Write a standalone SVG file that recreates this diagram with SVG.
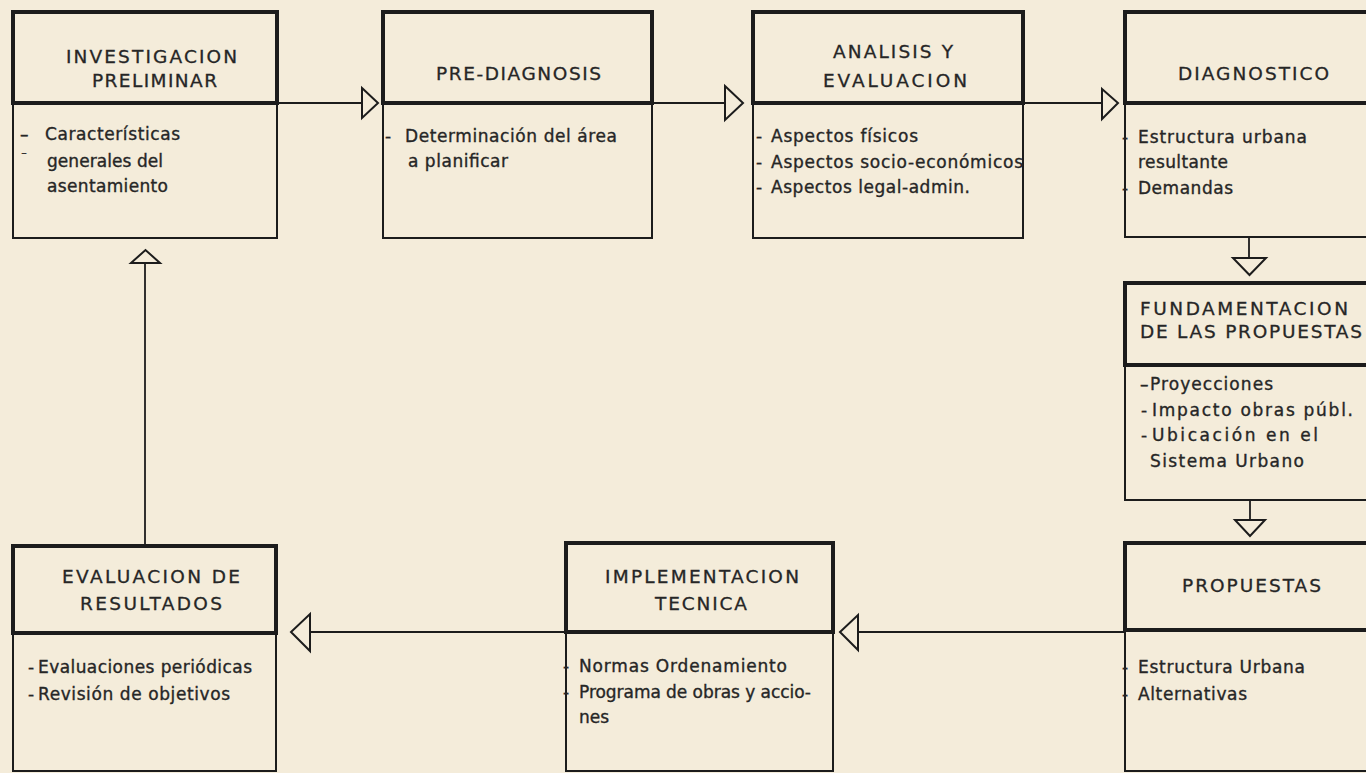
<svg xmlns="http://www.w3.org/2000/svg" width="1366" height="773" viewBox="0 0 1366 773">
<defs>
<style>
.bg{fill:#f4ecda}
.hd{fill:none;stroke:#1c1c1c;stroke-width:4}
.bd{fill:none;stroke:#1c1c1c;stroke-width:2}
.ln{fill:none;stroke:#1c1c1c;stroke-width:1.8}
.ar{fill:#f4ecda;stroke:#1c1c1c;stroke-width:2;stroke-linejoin:miter}
.h{font-family:"DejaVu Sans","Liberation Sans",sans-serif;font-size:18.5px;fill:#262626;stroke:#262626;stroke-width:0.3}
.t{font-family:"DejaVu Sans","Liberation Sans",sans-serif;font-size:17px;fill:#262626;stroke:#262626;stroke-width:0.35}
.s{font-family:"DejaVu Sans","Liberation Sans",sans-serif;font-size:12px;fill:#262626}
</style>
</defs>
<rect class="bg" x="0" y="0" width="1366" height="773"/>

<g id="connectors">
<line class="ln" x1="277" y1="103" x2="362" y2="103"/>
<polygon class="ar" points="362,88 378,103 362,118"/>
<line class="ln" x1="652" y1="103" x2="725" y2="103"/>
<polygon class="ar" points="725,86 743,103 725,120"/>
<line class="ln" x1="1023" y1="103" x2="1102" y2="103"/>
<polygon class="ar" points="1102,89 1118,103 1102,119"/>
<line class="ln" x1="1249" y1="237" x2="1249" y2="258"/>
<polygon class="ar" points="1233,258 1266,258 1249.5,275"/>
<line class="ln" x1="1250" y1="500" x2="1250" y2="520"/>
<polygon class="ar" points="1235,520 1265,520 1250,536"/>
<line class="ln" x1="1125" y1="632" x2="858" y2="632"/>
<polygon class="ar" points="858,615 858,650 840,632"/>
<line class="ln" x1="566" y1="632" x2="310" y2="632"/>
<polygon class="ar" points="310,614 310,651 291,632"/>
<line class="ln" x1="145" y1="546" x2="145" y2="263"/>
<polygon class="ar" points="131,263 160,263 145.5,250"/>
</g>

<g id="n1">
<rect class="bd" x="13" y="103" width="264" height="135"/>
<rect class="hd" x="13" y="12" width="264" height="91"/>
<text class="h" x="66" y="63" textLength="171" lengthAdjust="spacing">INVESTIGACION</text>
<text class="h" x="92" y="87" textLength="125" lengthAdjust="spacing">PRELIMINAR</text>
<text class="t" x="20" y="140">–</text>
<text class="t" x="45" y="140" textLength="135" lengthAdjust="spacing">Características</text>
<text class="s" x="21" y="157">–</text>
<text class="t" x="47" y="167" textLength="116" lengthAdjust="spacing">generales del</text>
<text class="t" x="47" y="192" textLength="121" lengthAdjust="spacing">asentamiento</text>
</g>

<g id="n2">
<rect class="bd" x="383" y="103" width="269" height="135"/>
<rect class="hd" x="383" y="12" width="269" height="91"/>
<text class="h" x="436" y="80" textLength="165" lengthAdjust="spacing">PRE-DIAGNOSIS</text>
<text class="t" x="385" y="142">-</text>
<text class="t" x="405" y="142" textLength="212" lengthAdjust="spacing">Determinación del área</text>
<text class="t" x="408" y="167" textLength="100" lengthAdjust="spacing">a planificar</text>
</g>

<g id="n3">
<rect class="bd" x="753" y="103" width="270" height="135"/>
<rect class="hd" x="753" y="12" width="270" height="91"/>
<text class="h" x="833" y="58" textLength="120" lengthAdjust="spacing">ANALISIS Y</text>
<text class="h" x="823" y="87" textLength="144" lengthAdjust="spacing">EVALUACION</text>
<text class="t" x="756" y="142">-</text>
<text class="t" x="771" y="142" textLength="147" lengthAdjust="spacing">Aspectos físicos</text>
<text class="t" x="756" y="168">-</text>
<text class="t" x="771" y="168" textLength="252" lengthAdjust="spacing">Aspectos socio-económicos</text>
<text class="t" x="756" y="193">-</text>
<text class="t" x="771" y="193" textLength="199" lengthAdjust="spacing">Aspectos legal-admin.</text>
</g>

<g id="n4">
<rect class="bd" x="1125" y="103" width="260" height="134"/>
<rect class="hd" x="1125" y="12" width="260" height="91"/>
<text class="h" x="1178" y="80" textLength="151" lengthAdjust="spacing">DIAGNOSTICO</text>
<text class="t" x="1122" y="143">-</text>
<text class="t" x="1138" y="143" textLength="169" lengthAdjust="spacing">Estructura urbana</text>
<text class="t" x="1138" y="168" textLength="90" lengthAdjust="spacing">resultante</text>
<text class="t" x="1122" y="194">-</text>
<text class="t" x="1138" y="194" textLength="95" lengthAdjust="spacing">Demandas</text>
</g>

<g id="n5">
<rect class="bd" x="1125" y="365" width="260" height="135"/>
<rect class="hd" x="1125" y="283" width="260" height="82"/>
<text class="h" x="1140" y="315" textLength="208" lengthAdjust="spacing">FUNDAMENTACION</text>
<text class="h" x="1140" y="338" textLength="222" lengthAdjust="spacing">DE LAS PROPUESTAS</text>
<text class="t" x="1140" y="390">–</text>
<text class="t" x="1150" y="390" textLength="123" lengthAdjust="spacing">Proyecciones</text>
<text class="t" x="1141" y="416">-</text>
<text class="t" x="1152" y="416" textLength="201" lengthAdjust="spacing">Impacto obras públ.</text>
<text class="t" x="1141" y="441">-</text>
<text class="t" x="1152" y="441" textLength="166" lengthAdjust="spacing">Ubicación en el</text>
<text class="t" x="1150" y="467" textLength="154" lengthAdjust="spacing">Sistema Urbano</text>
</g>

<g id="n6">
<rect class="bd" x="1125" y="630" width="260" height="141"/>
<rect class="hd" x="1125" y="543" width="260" height="87"/>
<text class="h" x="1182" y="592" textLength="139" lengthAdjust="spacing">PROPUESTAS</text>
<text class="t" x="1122" y="673">-</text>
<text class="t" x="1138" y="673" textLength="167" lengthAdjust="spacing">Estructura Urbana</text>
<text class="t" x="1122" y="700">-</text>
<text class="t" x="1138" y="700" textLength="109" lengthAdjust="spacing">Alternativas</text>
</g>

<g id="n7">
<rect class="bd" x="566" y="632" width="267" height="139"/>
<rect class="hd" x="566" y="543" width="267" height="89"/>
<text class="h" x="605" y="583" textLength="194" lengthAdjust="spacing">IMPLEMENTACION</text>
<text class="h" x="655" y="610" textLength="92" lengthAdjust="spacing">TECNICA</text>
<text class="t" x="563" y="672">-</text>
<text class="t" x="579" y="672" textLength="208" lengthAdjust="spacing">Normas Ordenamiento</text>
<text class="t" x="563" y="698">-</text>
<text class="t" x="579" y="698" textLength="232" lengthAdjust="spacing">Programa de obras y accio-</text>
<text class="t" x="579" y="723">nes</text>
</g>

<g id="n8">
<rect class="bd" x="13" y="633" width="263" height="138"/>
<rect class="hd" x="13" y="546" width="263" height="87"/>
<text class="h" x="62" y="583" textLength="178" lengthAdjust="spacing">EVALUACION DE</text>
<text class="h" x="80" y="610" textLength="142" lengthAdjust="spacing">RESULTADOS</text>
<text class="t" x="28" y="673">-</text>
<text class="t" x="38" y="673" textLength="214" lengthAdjust="spacing">Evaluaciones periódicas</text>
<text class="t" x="28" y="700">-</text>
<text class="t" x="38" y="700" textLength="192" lengthAdjust="spacing">Revisión de objetivos</text>
</g>
</svg>
